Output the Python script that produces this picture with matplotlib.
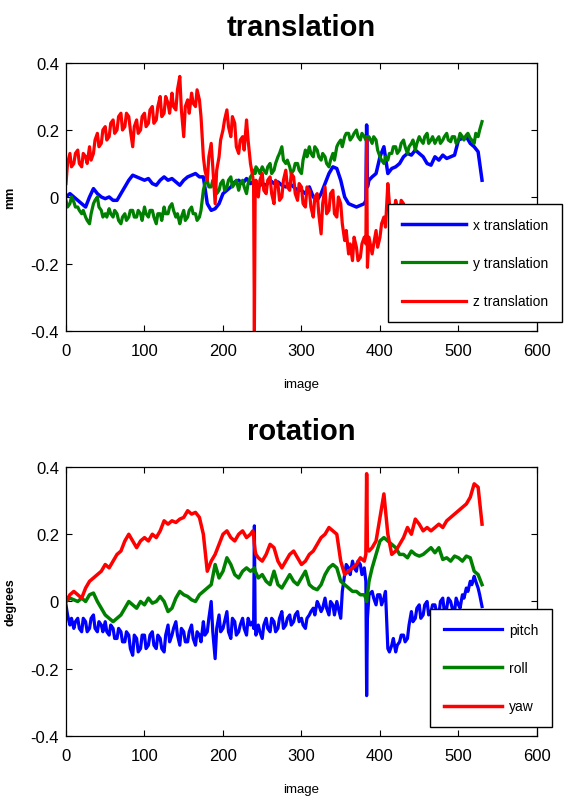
"""Head motion parameters: translation and rotation per image."""

import matplotlib

matplotlib.use("Agg")

import matplotlib.pyplot as plt
from matplotlib import font_manager
import numpy as np

NAN = np.nan

# image index (denser around the single-frame spikes)
frames = (
    list(range(0, 236, 5))
    + [238, 239, 240, 241, 242]
    + list(range(245, 381, 5))
    + [382, 383, 384, 386]
    + list(range(390, 531, 5))
)
# extra in-between images for the noisier traces
mid_frames = list(range(2, 233, 5)) + list(range(247, 378, 5)) + list(range(392, 528, 5))

x_translation = [
    0.00, 0.01, 0.00, -0.01, -0.02, -0.03, 0.00, 0.025, 0.01, 0.00,
    -0.005, 0.00, -0.01, -0.01, 0.01, 0.03, 0.05, 0.065, 0.06, 0.055,
    0.05, 0.055, 0.04, 0.035, 0.05, 0.06, 0.05, 0.055, 0.045, 0.035,
    0.05, 0.06, 0.065, 0.07, 0.06, 0.06, -0.02, -0.04, -0.035, -0.02,
    0.01, 0.02, 0.03, 0.045, 0.05, 0.04, 0.055, 0.04,
    0.045, 0.04, 0.03, 0.04, 0.035,
    0.03, 0.04, 0.035, 0.05, 0.04, 0.045, 0.035, 0.03, 0.04, 0.03,
    0.02, 0.02, 0.01, 0.03, 0.00, -0.01, 0.01, 0.04, 0.07, 0.09,
    0.085, 0.05, 0.00, -0.02, -0.025, -0.03, -0.025, -0.02,
    -0.01, 0.215, 0.03, 0.05,
    0.06, 0.07, 0.12, 0.15, 0.07, 0.085, 0.09, 0.10, 0.12, 0.13,
    0.125, 0.14, 0.13, 0.12, 0.10, 0.095, 0.12, 0.11, 0.125, 0.115,
    0.12, 0.125, 0.17, 0.175, 0.18, 0.16, 0.15, 0.135, 0.05,
]

y_translation = [
    -0.01, -0.02, -0.015, -0.03, -0.05, -0.06, -0.08, -0.02, 0.00, -0.04,
    -0.05, -0.035, -0.06, -0.05, -0.08, -0.05, -0.06, -0.04, -0.06, -0.05,
    -0.03, -0.06, -0.04, -0.08, -0.05, -0.03, -0.05, -0.02, -0.06, -0.08,
    -0.04, -0.06, -0.03, -0.05, -0.06, 0.02, 0.05, 0.03, 0.04, 0.02,
    0.05, 0.03, 0.06, 0.04, 0.02, 0.05, 0.01, 0.06,
    0.07, 0.08, 0.08, 0.07, 0.09,
    0.08, 0.09, 0.07, 0.10, 0.08, 0.12, 0.15, 0.10, 0.09, 0.08,
    0.10, 0.07, 0.14, 0.15, 0.12, 0.14, 0.11, 0.12, 0.09, 0.13,
    0.15, 0.17, 0.18, 0.19, 0.18, 0.20, 0.17, 0.18,
    0.17, 0.18, 0.175, 0.18,
    0.16, 0.17, 0.12, 0.10, 0.11, 0.13, 0.15, 0.14, 0.17, 0.13,
    0.16, 0.14, 0.18, 0.16, 0.19, 0.17, 0.16, 0.18, 0.17, 0.19,
    0.165, 0.18, 0.17, 0.18, 0.185, 0.175, 0.16, 0.18, 0.225,
]
y_translation_mid = [
    -0.03, 0.00, -0.03, -0.04, -0.04, -0.07, -0.05, -0.01, -0.03, -0.06,
    -0.06, -0.05, -0.04, -0.07, -0.06, -0.07, -0.04, -0.06, -0.04, -0.07,
    -0.05, -0.04, -0.06, -0.05, -0.07, -0.05, -0.03, -0.04, -0.05, -0.06,
    -0.07, -0.04, -0.05, -0.07, -0.04, 0.04, 0.03, 0.05, 0.01, 0.04,
    0.02, 0.05, 0.03, 0.05, 0.04, 0.03, 0.04,
    0.07, 0.08, 0.09, 0.07, 0.10, 0.13, 0.11, 0.11, 0.07, 0.10,
    0.08, 0.11, 0.12, 0.13, 0.15, 0.12, 0.13, 0.10, 0.11, 0.11,
    0.16, 0.15, 0.19, 0.17, 0.19, 0.18, 0.19,
    0.18, 0.14, 0.11, 0.12, 0.13, 0.15, 0.13, 0.16, 0.15, 0.15,
    0.17, 0.16, 0.17, 0.18, 0.16, 0.18, 0.17, 0.16, 0.18, 0.17,
    0.18, 0.16, 0.19, 0.17, 0.19, 0.17, 0.19, 0.20,
]

z_translation = [
    0.04, 0.13, 0.10, 0.14, 0.09, 0.12, 0.15, 0.13, 0.19, 0.16,
    0.21, 0.18, 0.23, 0.20, 0.25, 0.21, 0.24, 0.15, 0.23, 0.20,
    0.25, 0.22, 0.27, 0.23, 0.30, 0.25, 0.28, 0.31, 0.26, 0.36,
    0.18, 0.29, 0.31, 0.27, 0.29, 0.12, 0.05, 0.16, -0.02, 0.12,
    0.20, 0.26, 0.18, 0.22, 0.13, 0.18, 0.23, 0.10,
    0.06, 0.03, -0.40, 0.02, 0.05,
    0.00, 0.07, 0.01, 0.06, -0.02, 0.04, 0.00, 0.08, 0.02, 0.06,
    -0.01, 0.03, -0.03, 0.02, -0.06, 0.01, -0.11, 0.03, -0.04, 0.02,
    -0.06, -0.02, -0.13, -0.17, -0.19, -0.15, -0.18, -0.12,
    -0.14, 0.17, -0.21, -0.12,
    -0.17, -0.10, -0.12, -0.06, 0.04, -0.04, -0.01, -0.05, -0.02, -0.03,
    NAN, NAN, NAN, NAN, NAN, NAN, NAN, NAN, NAN, NAN,
    NAN, NAN, NAN, NAN, NAN, NAN, NAN, NAN, NAN,
]
z_translation_mid = [
    0.10, 0.09, 0.13, 0.10, 0.13, 0.10, 0.11, 0.17, 0.15, 0.20,
    0.17, 0.22, 0.19, 0.24, 0.20, 0.25, 0.20, 0.21, 0.19, 0.24,
    0.21, 0.26, 0.22, 0.27, 0.24, 0.30, 0.25, 0.27, 0.32, 0.26,
    0.27, 0.25, 0.28, 0.32, 0.24, 0.08, 0.12, 0.09, 0.08, 0.17,
    0.23, 0.21, 0.24, 0.15, 0.17, 0.14, 0.17,
    0.05, 0.02, 0.05, 0.01, 0.05, -0.01, 0.05, 0.03, 0.07, 0.01,
    0.04, -0.02, 0.03, -0.03, 0.00, -0.05, -0.02, -0.05, 0.01, -0.05,
    0.00, -0.08, -0.10, -0.14, -0.12, -0.19, -0.14,
    -0.14, -0.15, -0.08, -0.09, -0.02, -0.06, -0.03, -0.01, -0.04, NAN,
    NAN, NAN, NAN, NAN, NAN, NAN, NAN, NAN, NAN, NAN,
    NAN, NAN, NAN, NAN, NAN, NAN, NAN, NAN,
]

pitch = [
    -0.01, -0.07, -0.08, -0.05, -0.09, -0.06, -0.08, -0.04, -0.09, -0.07,
    -0.06, -0.10, -0.08, -0.11, -0.09, -0.12, -0.10, -0.16, -0.11, -0.14,
    -0.10, -0.13, -0.09, -0.14, -0.11, -0.15, -0.07, -0.10, -0.06, -0.13,
    -0.09, -0.12, -0.07, -0.13, -0.10, -0.06, -0.09, 0.00, -0.17, -0.04,
    -0.08, -0.03, -0.11, -0.06, -0.09, -0.05, -0.10, -0.07,
    -0.06, -0.08, 0.225, -0.07, -0.10,
    -0.07, -0.11, -0.05, -0.09, -0.06, -0.08, -0.03, -0.07, -0.04, -0.06,
    -0.03, -0.05, -0.08, -0.04, -0.02, 0.00, -0.03, 0.01, -0.04, -0.01,
    0.00, -0.05, 0.08, 0.10, 0.12, 0.09, 0.11, 0.10,
    0.06, -0.28, -0.05, 0.02,
    0.03, -0.01, 0.02, 0.01, -0.14, -0.13, -0.15, -0.12, -0.10, -0.11,
    -0.03, -0.05, -0.01, -0.04, 0.00, -0.03, -0.01, -0.04, 0.01, -0.02,
    0.00, -0.03, -0.01, 0.02, 0.04, 0.06, 0.075, 0.04, -0.015,
]
pitch_mid = [
    -0.04, -0.05, -0.06, -0.08, -0.05, -0.09, -0.05, -0.08, -0.06, -0.09,
    -0.09, -0.07, -0.11, -0.08, -0.12, -0.09, -0.14, -0.10, -0.15, -0.10,
    -0.14, -0.10, -0.13, -0.10, -0.14, -0.10, -0.12, -0.08, -0.10, -0.08,
    -0.12, -0.09, -0.11, -0.09, -0.12, -0.10, -0.05, -0.09, -0.08, -0.09,
    -0.06, -0.09, -0.05, -0.10, -0.07, -0.08, -0.05,
    -0.09, -0.07, -0.08, -0.05, -0.09, -0.05, -0.08, -0.05, -0.07, -0.04,
    -0.06, -0.07, -0.05, -0.03, -0.04, -0.01, -0.02, -0.02, 0.00, -0.04,
    -0.02, 0.03, 0.11, 0.08, 0.10, 0.12, 0.08,
    0.01, 0.02, -0.01, 0.03, -0.15, -0.11, -0.13, -0.10, -0.12, -0.07,
    -0.06, -0.02, -0.05, -0.01, -0.04, -0.01, -0.03, 0.00, -0.03, 0.01,
    -0.02, 0.01, -0.02, 0.01, 0.03, 0.05, 0.06, 0.02,
]

roll = [
    0.00, 0.01, 0.005, 0.00, 0.01, 0.00, 0.02, 0.025, 0.00, -0.02,
    -0.04, -0.05, -0.06, -0.05, -0.04, -0.02, 0.00, -0.01, -0.02, 0.00,
    -0.01, 0.01, -0.005, 0.00, 0.015, 0.00, -0.03, -0.02, 0.01, 0.03,
    0.02, 0.015, 0.005, 0.00, 0.02, 0.03, 0.04, 0.05, 0.11, 0.07,
    0.09, 0.13, 0.11, 0.08, 0.07, 0.09, 0.10, 0.09,
    0.095, 0.09, 0.10, 0.09, 0.085,
    0.07, 0.08, 0.06, 0.05, 0.09, 0.05, 0.04, 0.06, 0.08, 0.06,
    0.05, 0.07, 0.09, 0.05, 0.04, 0.035, 0.05, 0.08, 0.10, 0.11,
    0.10, 0.06, 0.05, 0.04, 0.03, 0.03, 0.02, 0.02,
    0.01, 0.00, 0.02, 0.06,
    0.10, 0.14, 0.18, 0.19, 0.18, 0.17, 0.16, 0.14, 0.14, 0.13,
    0.15, 0.14, 0.135, 0.14, 0.15, 0.16, 0.145, 0.16, 0.125, 0.13,
    0.12, 0.135, 0.13, 0.12, 0.135, 0.13, 0.09, 0.08, 0.05,
]

yaw = [
    0.00, 0.02, 0.03, 0.02, 0.01, 0.04, 0.06, 0.07, 0.08, 0.09,
    0.11, 0.10, 0.12, 0.14, 0.15, 0.18, 0.20, 0.18, 0.16, 0.18,
    0.19, 0.18, 0.20, 0.19, 0.21, 0.24, 0.23, 0.24, 0.235, 0.245,
    0.25, 0.27, 0.26, 0.265, 0.25, 0.20, 0.09, 0.12, 0.14, 0.17,
    0.20, 0.21, 0.19, 0.18, 0.20, 0.21, 0.19, 0.20,
    0.21, 0.20, 0.17, 0.15, 0.14,
    0.13, 0.12, 0.14, 0.17, 0.16, 0.12, 0.10, 0.12, 0.14, 0.15,
    0.13, 0.11, 0.12, 0.14, 0.15, 0.17, 0.19, 0.20, 0.22, 0.21,
    0.20, 0.12, 0.08, 0.09, 0.10, 0.11, 0.13, 0.12,
    0.14, 0.38, 0.16, 0.15,
    0.16, 0.18, 0.25, 0.32, 0.20, 0.14, 0.15, 0.17, 0.19, 0.22,
    0.20, 0.245, 0.23, 0.21, 0.22, 0.21, 0.22, 0.23, 0.22, 0.24,
    0.25, 0.26, 0.27, 0.28, 0.29, 0.31, 0.35, 0.34, 0.23,
]

x_ticks = [0, 100, 200, 300, 400, 500, 600]
y_ticks = [-0.4, -0.2, 0, 0.2, 0.4]
y_tick_labels = ["-0.4", "-0.2", "0", "0.2", "0.4"]

BLUE = "#0000ff"
GREEN = "#008000"
RED = "#ff0000"


def pick_family():
    names = {f.name for f in font_manager.fontManager.ttflist}
    for name in ["Liberation Sans Narrow", "Liberation Sans", "DejaVu Sans"]:
        if name in names:
            return name
    return "DejaVu Sans"


FAMILY = pick_family()
plt.rcParams["font.family"] = [FAMILY, "DejaVu Sans"]


def merged(values, mid_values=None):
    """Put the in-between samples back in image order."""
    if mid_values is None:
        return np.asarray(frames), np.asarray(values)
    x = np.concatenate([frames, mid_frames])
    y = np.concatenate([values, mid_values])
    order = np.argsort(x, kind="stable")
    return x[order], y[order]


def style_axes(ax, ylabel):
    ax.set_xlim(0, 600)
    ax.set_ylim(-0.4, 0.4)
    ax.set_xticks(x_ticks)
    ax.set_xticklabels([str(t) for t in x_ticks])
    ax.set_yticks(y_ticks)
    ax.set_yticklabels(y_tick_labels)
    ax.tick_params(direction="in", top=True, right=True, length=4,
                   labelsize=12, width=0.8)
    ax.tick_params(axis="x", pad=9)
    ax.tick_params(axis="y", pad=5)
    for spine in ax.spines.values():
        spine.set_linewidth(0.9)
    ax.set_xlabel("image", fontsize=9.5, labelpad=14)
    ax.set_ylabel(ylabel, fontsize=9, fontweight="bold", labelpad=10)


def add_legend(ax, left_px, top_px, handlelength):
    ax.legend(loc="upper left", bbox_to_anchor=(left_px / 587, 1 - top_px / 803),
              bbox_transform=fig.transFigure, fontsize=10,
              handlelength=handlelength, handletextpad=0.5,
              labelspacing=1.75, borderpad=1.0, fancybox=False, framealpha=1,
              edgecolor="black", borderaxespad=0)


fig = plt.figure(figsize=(5.87, 8.03), dpi=100)

ax1 = fig.add_axes([0.1124, 0.5866, 0.8024, 0.3337])
ax1.plot(*merged(x_translation), color=BLUE, lw=2.5, label="x translation")
ax1.plot(*merged(y_translation, y_translation_mid), color=GREEN, lw=2.3,
         label="y translation")
ax1.plot(*merged(z_translation, z_translation_mid), color=RED, lw=2.3,
         label="z translation")
style_axes(ax1, "mm")
ax1.set_title("translation", fontsize=21, fontweight="bold", pad=20)
add_legend(ax1, 388, 205, 4.6)

ax2 = fig.add_axes([0.1124, 0.0822, 0.8024, 0.335])
ax2.plot(*merged(pitch, pitch_mid), color=BLUE, lw=2.3, label="pitch")
ax2.plot(*merged(roll), color=GREEN, lw=2.5, label="roll")
ax2.plot(*merged(yaw), color=RED, lw=2.5, label="yaw")
style_axes(ax2, "degrees")
ax2.set_title("rotation", fontsize=21, fontweight="bold", pad=20)
add_legend(ax2, 430, 610, 4.2)

fig.savefig("out.png", dpi=100)
plt.close(fig)
